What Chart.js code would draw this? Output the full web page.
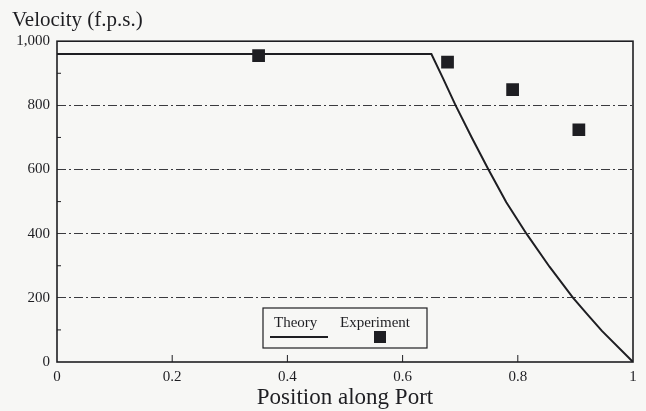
<!DOCTYPE html>
<html lang="en">
<head>
    <meta charset="UTF-8">
    <title>Velocity along Port</title>
    <script src="https://cdn.jsdelivr.net/npm/chart.js"></script>
    <style>
        body {
            margin: 0;
            padding: 0;
            background-color: #f7f7f5;
        }
        .chart-container {
            width: 646px;
            height: 411px;
        }
    </style>
</head>
<body>
    <div class="chart-container">
        <canvas id="velocityChart"></canvas>
    </div>

    <script>
        // theory curve (position, velocity)
        const theoryX = [0, 0.65, 0.67, 0.692, 0.72, 0.749, 0.78, 0.815, 0.855, 0.896, 0.92, 0.946, 1];
        const theoryY = [960, 960, 885, 800, 700, 600, 498, 400, 297, 200, 150, 97, 0];
        // measured points
        const experimentX = [0.35, 0.678, 0.791, 0.906];
        const experimentY = [955, 935, 849, 724];
        const xTicks = [0, 0.2, 0.4, 0.6, 0.8, 1];
        const yLabels = [0, 200, 400, 600, 800, 1000];

        const serif = "'Liberation Serif', 'DejaVu Serif', serif";
        const ink = '#1e1e22';

        // frame, inward tick marks and the boxed legend
        const framePlugin = {
            id: 'frame',
            afterDraw(chart) {
                const ctx = chart.ctx;
                const area = chart.chartArea;
                const xs = chart.scales.x;
                const ys = chart.scales.y;
                ctx.save();
                ctx.setLineDash([]);
                ctx.strokeStyle = ink;
                ctx.lineWidth = 1.6;
                ctx.strokeRect(area.left, area.top, area.right - area.left, area.bottom - area.top);

                ctx.lineWidth = 1;
                for (let v = 100; v < 1000; v += 200) {
                    const y = ys.getPixelForValue(v);
                    ctx.beginPath();
                    ctx.moveTo(area.left, y);
                    ctx.lineTo(area.left + 4, y);
                    ctx.stroke();
                }
                xTicks.slice(1, -1).forEach(t => {
                    const x = xs.getPixelForValue(t);
                    ctx.beginPath();
                    ctx.moveTo(x, area.bottom);
                    ctx.lineTo(x, area.bottom - 7);
                    ctx.stroke();
                });

                // legend box
                const bx = 263, by = 308, bw = 164, bh = 40;
                ctx.fillStyle = '#f7f7f5';
                ctx.fillRect(bx, by, bw, bh);
                ctx.lineWidth = 1.2;
                ctx.strokeRect(bx, by, bw, bh);
                ctx.fillStyle = ink;
                ctx.font = '15px ' + serif;
                ctx.textBaseline = 'alphabetic';
                ctx.textAlign = 'left';
                ctx.fillText('Theory', 274, 327);
                ctx.fillText('Experiment', 340, 327);
                ctx.lineWidth = 2;
                ctx.beginPath();
                ctx.moveTo(270, 337);
                ctx.lineTo(328, 337);
                ctx.stroke();
                ctx.fillRect(374, 331, 12, 12);
                ctx.restore();
            }
        };

        const ctx = document.getElementById('velocityChart').getContext('2d');

        new Chart(ctx, {
            type: 'scatter',
            data: {
                datasets: [
                    {
                        label: 'Theory',
                        data: theoryX.map((x, i) => ({ x: x, y: theoryY[i] })),
                        showLine: true,
                        borderColor: ink,
                        borderWidth: 2,
                        pointRadius: 0,
                        tension: 0
                    },
                    {
                        label: 'Experiment',
                        data: experimentX.map((x, i) => ({ x: x, y: experimentY[i] })),
                        pointStyle: 'rect',
                        pointRadius: 9,
                        backgroundColor: ink,
                        borderColor: ink,
                        borderWidth: 0
                    }
                ]
            },
            options: {
                responsive: true,
                maintainAspectRatio: false,
                animation: false,
                layout: {
                    padding: { left: 12, right: 13, top: 0, bottom: 0 }
                },
                plugins: {
                    legend: { display: false },
                    tooltip: { enabled: false },
                    title: {
                        display: true,
                        text: 'Velocity (f.p.s.)',
                        align: 'start',
                        color: ink,
                        font: { family: serif, size: 21, weight: 'normal' },
                        padding: { top: 8, bottom: 8 }
                    }
                },
                scales: {
                    x: {
                        type: 'linear',
                        min: 0,
                        max: 1,
                        afterFit: scale => { scale.height = 49; },
                        afterBuildTicks: scale => {
                            scale.ticks = xTicks.map(v => ({ value: v }));
                        },
                        ticks: {
                            color: ink,
                            font: { family: serif, size: 15 },
                            padding: 6,
                            callback: v => String(v)
                        },
                        grid: { display: false, drawTicks: false },
                        border: { display: false },
                        title: {
                            display: true,
                            text: 'Position along Port',
                            color: ink,
                            font: { family: serif, size: 23, lineHeight: 1 },
                            padding: { top: 0, bottom: 2 }
                        }
                    },
                    y: {
                        type: 'linear',
                        min: 0,
                        max: 1000,
                        afterFit: scale => { scale.width = 45; },
                        afterBuildTicks: scale => {
                            scale.ticks = yLabels.map(v => ({ value: v }));
                        },
                        ticks: {
                            color: ink,
                            font: { family: serif, size: 15 },
                            padding: 7,
                            callback: v => v === 1000 ? '1,000' : String(v)
                        },
                        grid: {
                            drawTicks: false,
                            lineWidth: 1.1,
                            color: c => (c.tick && c.tick.value > 0 && c.tick.value < 1000) ? '#3a3a3e' : 'rgba(0,0,0,0)'
                        },
                        border: { display: false, dash: [9, 3, 2, 3] }
                    }
                }
            },
            plugins: [framePlugin]
        });
    </script>
</body>
</html>
